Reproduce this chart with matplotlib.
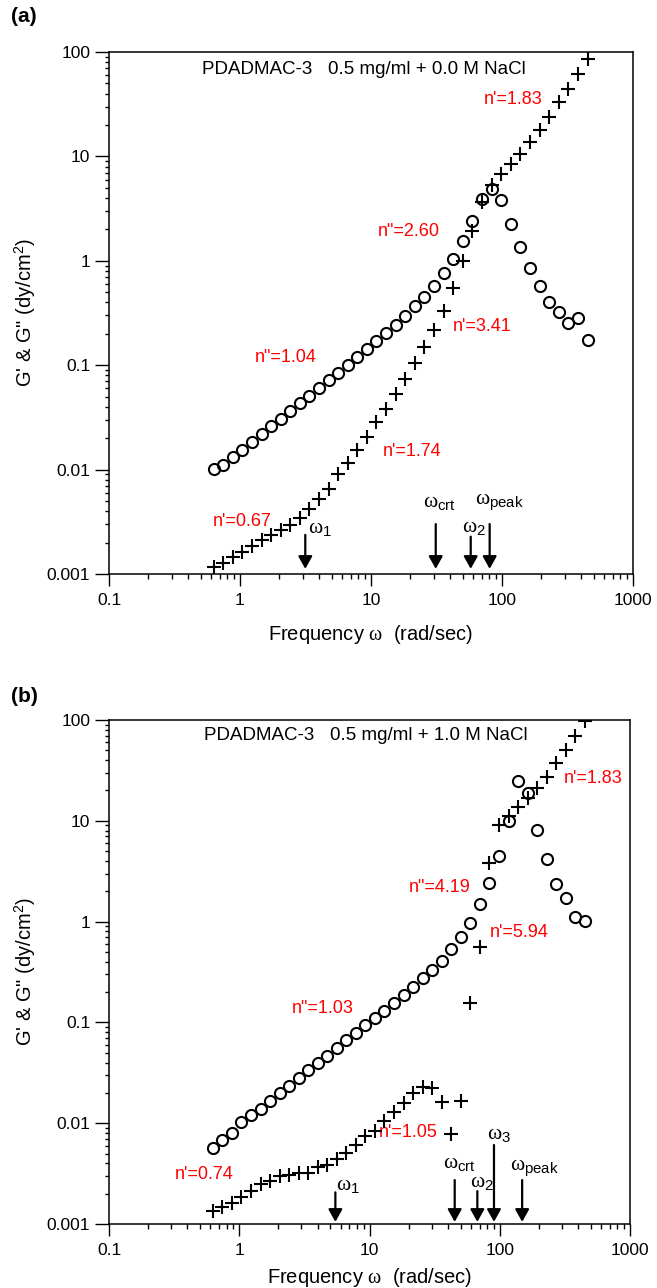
import numpy as np
import matplotlib
matplotlib.use("Agg")
import matplotlib.pyplot as plt
from matplotlib.ticker import FixedLocator, FuncFormatter, NullFormatter

plt.rcParams['font.family'] = ['Liberation Sans', 'DejaVu Sans']
plt.rcParams['mathtext.fontset'] = 'custom'
plt.rcParams['mathtext.rm'] = 'Liberation Sans'
plt.rcParams['mathtext.it'] = 'Liberation Serif'
plt.rcParams['mathtext.bf'] = 'Liberation Sans:bold'

# ---- data ----
freq = [0.628, 0.743, 0.880, 1.04, 1.23, 1.46, 1.73, 2.04, 2.42, 2.86,
        3.39, 4.01, 4.75, 5.62, 6.65, 7.87, 9.31, 11.0, 13.0, 15.4,
        18.3, 21.6, 25.6, 30.3, 35.9, 42.5, 50.3, 59.5, 70.4, 83.3,
        98.6, 117, 138, 164, 194, 229, 271, 321, 380, 450]

Gpp_a = [0.0101, 0.0111, 0.0133, 0.0154, 0.0183, 0.0219, 0.0262, 0.0308, 0.0364, 0.0431,
         0.0510, 0.0608, 0.0716, 0.0847, 0.101, 0.1205, 0.143, 0.169, 0.202, 0.244,
         0.298, 0.367, 0.447, 0.577, 0.758, 1.047, 1.548, 2.42, 3.88, 4.91,
         3.82, 2.25, 1.355, 0.847, 0.574, 0.406, 0.323, 0.255, 0.281, 0.174]

Gp_a = [0.00117, 0.00128, 0.00147, 0.00164, 0.00185, 0.00210, 0.00236, 0.00264, 0.00297, 0.00342,
        0.00423, 0.00526, 0.00656, 0.00907, 0.01156, 0.0153, 0.0207, 0.0286, 0.0380, 0.0530,
        0.0743, 0.105, 0.148, 0.217, 0.334, 0.552, 1.00, 1.92, 3.68, 5.28,
        6.78, 8.51, 10.6, 13.7, 17.8, 23.7, 33.0, 44.2, 62.0, 85.1]

Gpp_b = [0.00571, 0.00681, 0.00805, 0.0102, 0.0121, 0.0139, 0.0166, 0.0198, 0.0236, 0.0281,
         0.0335, 0.0395, 0.0467, 0.0557, 0.0664, 0.0790, 0.0942, 0.111, 0.131, 0.157,
         0.188, 0.223, 0.277, 0.329, 0.411, 0.531, 0.698, 0.975, 1.485, 2.43,
         4.48, 10.0, 24.6, 19.0, 8.05, 4.15, 2.34, 1.73, 1.12, 1.02]

Gp_b = [0.00136, 0.00147, 0.00163, 0.00187, 0.00214, 0.00248, 0.00269, 0.00299, 0.00306, 0.00318,
        0.00323, 0.00365, 0.00387, 0.00442, 0.00502, 0.00604, 0.00752, 0.00831, 0.0104, 0.0128,
        0.0157, 0.0198, 0.0230, 0.0225, 0.0162, 0.00776, 0.0167, 0.155, 0.564, 3.79,
        9.08, 11.2, 13.8, 16.9, 21.0, 27.4, 37.2, 50.3, 69.4, 97.1]

x_ticks = [0.1, 1, 10, 100, 1000]
y_ticks = [0.001, 0.01, 0.1, 1, 10, 100]

titles = ["PDADMAC-3   0.5 mg/ml + 0.0 M NaCl", "PDADMAC-3   0.5 mg/ml + 1.0 M NaCl"]
panel_tags = ["(a)", "(b)"]

# slope annotations: (text, x, y)
slopes_a = [("n'=1.83", 73.0, 34.7), ('n"=2.60', 11.3, 1.90), ("n'=3.41", 42.1, 0.237),
            ('n"=1.04', 1.30, 0.118), ("n'=1.74", 12.4, 0.0148), ("n'=0.67", 0.62, 0.00317)]
slopes_b = [("n'=1.83", 309, 26.0), ('n"=4.19', 19.9, 2.17), ("n'=5.94", 84.1, 0.776),
            ('n"=1.03', 2.51, 0.136), ("n'=1.05", 11.8, 0.00805), ("n'=0.74", 0.322, 0.00311)]

# characteristic frequencies: (label, arrow freq, arrow top, label x, label y)
marks_a = [(r'$\omega_1$', 3.15, 0.00237, 3.30, 0.00247),
           (r'$\omega_{\mathrm{crt}}$', 31.2, 0.00301, 24.8, 0.00442),
           (r'$\omega_2$', 57.7, 0.00228, 49.2, 0.00254),
           (r'$\omega_{\mathrm{peak}}$', 80.5, 0.00301, 62.2, 0.00468)]
marks_b = [(r'$\omega_1$', 5.47, 0.00206, 5.51, 0.00217),
           (r'$\omega_{\mathrm{crt}}$', 45.1, 0.00273, 36.9, 0.00360),
           (r'$\omega_2$', 67.3, 0.00212, 59.2, 0.00234),
           (r'$\omega_3$', 90.3, 0.00608, 79.4, 0.00692),
           (r'$\omega_{\mathrm{peak}}$', 148.6, 0.00273, 119, 0.00343)]
arrow_bottom = [0.00112, 0.00105]

W, H = 657, 1288
fig = plt.figure(figsize=(W / 100, H / 100), dpi=100)
ax1 = fig.add_axes([109 / W, 1 - 574 / H, (633 - 109) / W, (574 - 52) / H])
ax2 = fig.add_axes([109 / W, 1 - 1224 / H, (630 - 109) / W, (1224 - 720) / H])

fmt = FuncFormatter(lambda v, p: '{:g}'.format(v))

panels = [(ax1, Gp_a, Gpp_a, slopes_a, marks_a, -0.115),
          (ax2, Gp_b, Gpp_b, slopes_b, marks_b, -0.107)]

for i, (ax, gp, gpp, slopes, marks, xlab_y) in enumerate(panels):
    ax.set_xscale('log')
    ax.set_yscale('log')
    ax.plot(freq, gpp, linestyle='none', marker='o', markersize=8, markerfacecolor='none',
            markeredgecolor='black', markeredgewidth=1.5, zorder=3)
    ax.plot(freq, gp, linestyle='none', marker='+', markersize=9.5,
            markeredgecolor='black', markeredgewidth=1.5, zorder=4)
    ax.set_xlim(0.1, 1000)
    ax.set_ylim(0.001, 100)
    ax.xaxis.set_major_locator(FixedLocator(x_ticks))
    ax.yaxis.set_major_locator(FixedLocator(y_ticks))
    ax.xaxis.set_major_formatter(fmt)
    ax.yaxis.set_major_formatter(fmt)
    ax.xaxis.set_minor_formatter(NullFormatter())
    ax.yaxis.set_minor_formatter(NullFormatter())
    ax.tick_params(axis='x', which='major', direction='out', length=8.6, width=1.0,
                   labelsize=12.5, pad=5, top=False)
    ax.tick_params(axis='x', which='minor', direction='out', length=3.6, width=1.0, top=False)
    ax.tick_params(axis='y', which='major', direction='out', length=10, width=1.0,
                   labelsize=12.5, pad=3.5, right=False)
    ax.tick_params(axis='y', which='minor', direction='out', length=3, width=1.0, right=False)
    for sp in ax.spines.values():
        sp.set_linewidth(1.1)

    ax.set_xlabel(r'Frequency $\omega$  (rad/sec)', fontsize=14.5)
    ax.xaxis.set_label_coords(0.5, xlab_y)
    ax.xaxis.label.set_verticalalignment('center')
    ax.set_ylabel('G\' & G" (dy/cm$^2$)', fontsize=14.5)
    ax.yaxis.set_label_coords(-0.160, 0.5)
    ax.yaxis.label.set_verticalalignment('center')

    tx, ty = (0.513, 67.3) if i == 0 else (0.538, 69.4)
    ax.text(tx, ty, titles[i], fontsize=13.5, ha='left', va='center')

    for txt, x, y in slopes:
        ax.text(x, y, txt, color='red', fontsize=13, ha='left', va='center')

    for lab, fx, ftop, lx, ly in marks:
        ax.annotate('', xy=(fx, arrow_bottom[i]), xytext=(fx, ftop),
                    arrowprops=dict(arrowstyle='-|>,head_length=0.75,head_width=0.42',
                                    color='black', lw=1.6, shrinkA=0, shrinkB=0,
                                    mutation_scale=10))
        ax.text(lx, ly, lab, fontsize=15.5, ha='left', va='baseline')

fig.text(11 / W, 1 - 16 / H, panel_tags[0], fontsize=15, fontweight='bold', ha='left', va='center')
fig.text(11 / W, 1 - 696 / H, panel_tags[1], fontsize=15, fontweight='bold', ha='left', va='center')

fig.savefig('out.png', dpi=100)
